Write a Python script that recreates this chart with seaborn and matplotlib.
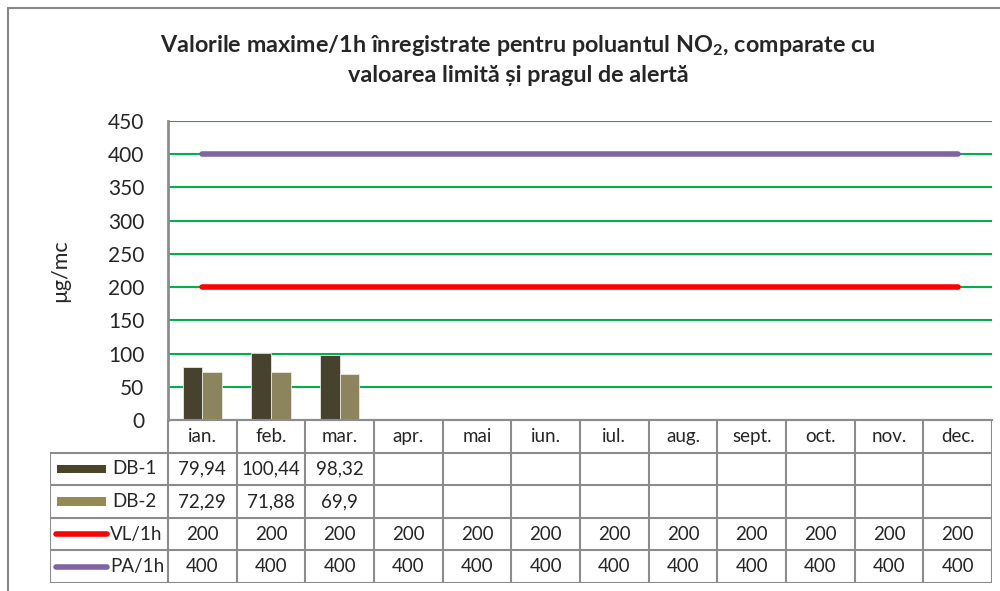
import numpy as np
import pandas as pd
import matplotlib
matplotlib.use("Agg")
import matplotlib.pyplot as plt
import seaborn as sns

# Data
months = ['ian.', 'feb.', 'mar.', 'apr.', 'mai', 'iun.', 'iul.', 'aug.',
          'sept.', 'oct.', 'nov.', 'dec.']
db1 = [79.94, 100.44, 98.32]
db2 = [72.29, 71.88, 69.9]
vl_1h = [200] * 12
pa_1h = [400] * 12

c_db1 = '#4A442A'
c_db2 = '#948A54'
c_vl = '#FF0000'
c_pa = '#8064A2'
grid_c = '#00B050'
edge_c = '#8C8C8C'

sns.set_style('white')
plt.rcParams['font.family'] = ['Lato', 'DejaVu Sans']
plt.rcParams['mathtext.fontset'] = 'custom'
plt.rcParams['mathtext.rm'] = 'Lato'
plt.rcParams['mathtext.bf'] = 'Lato:bold'

# long table for seaborn
df = pd.DataFrame({
    'luna': months[:len(db1)] * 2,
    'val': db1 + db2,
    'serie': ['DB-1'] * len(db1) + ['DB-2'] * len(db2),
})

W, H = 1000, 591
fig = plt.figure(figsize=(W / 100, H / 100), dpi=100)

# outer frame (only left and top visible in the reference)
fig.add_artist(plt.Line2D([8 / W, 8 / W], [0, 1 - 8 / H], color='#888888', lw=1.5))
fig.add_artist(plt.Line2D([8 / W, 1], [1 - 8 / H, 1 - 8 / H], color='#888888', lw=1.5))

# main plot area
ax = fig.add_axes([168 / W, 1 - 420 / H, 824 / W, 299 / H])
ax.set_axisbelow(True)
sns.barplot(data=df, x='luna', y='val', hue='serie', order=months,
            hue_order=['DB-1', 'DB-2'], palette=[c_db1, c_db2],
            width=0.57, edgecolor='#E8E8E0', linewidth=0.6,
            legend=False, ax=ax)

x = np.arange(len(months))
sns.lineplot(x=x, y=vl_1h, color=c_vl, lw=4, solid_capstyle='round', ax=ax)
sns.lineplot(x=x, y=pa_1h, color=c_pa, lw=4, solid_capstyle='round', ax=ax)

ax.set_xlim(-0.5, len(months) - 0.5)
ax.set_ylim(0, 450)
ax.set_yticks(np.arange(0, 451, 50))
ax.set_xticks([])
ax.set_xlabel('')
ax.set_ylabel('')
ax.tick_params(axis='y', length=0, pad=17, labelsize=15)
ax.grid(axis='y', color=grid_c, lw=1.5)
for s in ['top', 'right']:
    ax.spines[s].set_visible(False)
ax.spines['left'].set_color(edge_c)
ax.spines['left'].set_linewidth(2)
ax.spines['bottom'].set_color(edge_c)
ax.spines['bottom'].set_linewidth(1.5)

fig.text(60 / W, 1 - 271 / H, 'µg/mc', rotation=90, ha='center', va='center',
         fontsize=15.5)

fig.text(518 / W, 1 - 45 / H,
         r'Valorile maxime/1h înregistrate pentru poluantul NO$_\mathbf{2}$, comparate cu',
         ha='center', va='center', fontsize=16.8, fontweight='bold')
fig.text(518 / W, 1 - 75 / H, 'valoarea limită și pragul de alertă',
         ha='center', va='center', fontsize=16.8, fontweight='bold')

# data table below the plot, sharing the category scale
cat_px = 824 / len(months)
left_w = 118 / cat_px
L = -0.5 - left_w
R = len(months) - 0.5
tax = fig.add_axes([50 / W, 1 - 583 / H, 942 / W, 163 / H])
tax.set_xlim(L, R)
tax.set_ylim(5, 0)
tax.axis('off')

lk = dict(color=edge_c, lw=1.5, solid_capstyle='butt')
# horizontal lines
tax.plot([-0.5, R], [0, 0], **lk)
for r in range(1, 6):
    tax.plot([L, R], [r, r], **lk)
# vertical lines
tax.plot([L, L], [1, 5], **lk)
for b in np.arange(-0.5, R + 0.01, 1):
    tax.plot([b, b], [0, 5], **lk)

fs = 13.5
for i, m in enumerate(months):
    tax.text(i, 0.5, m, ha='center', va='center', fontsize=fs)

rows = [('DB-1', db1, c_db1, 'bar'), ('DB-2', db2, c_db2, 'bar'),
        ('VL/1h', vl_1h, c_vl, 'line'), ('PA/1h', pa_1h, c_pa, 'line')]
for r, (name, vals, col, kind) in enumerate(rows, start=1):
    yc = r + 0.5
    if kind == 'bar':
        tax.add_patch(plt.Rectangle((L + 7 / cat_px, yc - 0.13), 49 / cat_px, 0.26,
                                    color=col, lw=0))
        tax.text(L + 62 / cat_px, yc, name, ha='left', va='center', fontsize=fs)
    else:
        tax.plot([L + 6 / cat_px, L + 57 / cat_px], [yc, yc], color=col, lw=4,
                 solid_capstyle='round')
        tax.text(L + 60 / cat_px, yc, name, ha='left', va='center', fontsize=fs)
    for i, v in enumerate(vals):
        tax.text(i, yc, f'{v:g}'.replace('.', ','), ha='center', va='center',
                 fontsize=fs)

fig.savefig('out.png', dpi=100)
